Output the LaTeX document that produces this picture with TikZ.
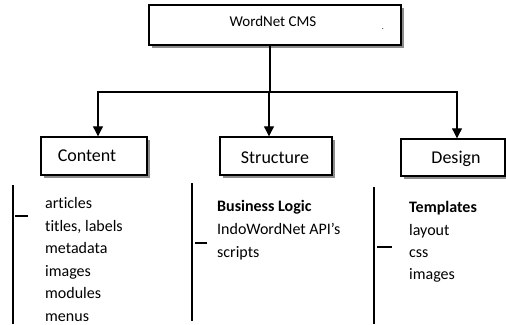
\documentclass[tikz,border=0pt]{standalone}
\usepackage{fontspec}
\setmainfont{Carlito}[Ligatures=NoCommon]
\usetikzlibrary{arrows.meta,shadows}
\begin{document}
\begin{tikzpicture}[x=1pt,y=-1pt,
  box/.style={draw=black, line width=1.4pt, fill=white, inner sep=0pt,
    drop shadow={shadow xshift=3pt, shadow yshift=-3pt, fill=black!45, opacity=1}},
  conn/.style={line width=1.1pt, -{Triangle[width=10pt,length=10pt]}},
  plain/.style={line width=1.1pt},
  brack/.style={line width=1.5pt},
  title/.style={font=\fontsize{18}{20}\selectfont},
  item/.style={anchor=base west, inner sep=0pt, font=\fontsize{16}{20}\selectfont}]
\useasboundingbox (0,0) rectangle (506,324);
% boxes
\node[box, minimum width=252pt, minimum height=40pt] (top) at (275,25) {};
\node[inner sep=0pt, font=\fontsize{15}{18}\selectfont] (toplabel) at (273,21) {WordNet CMS};
\node[inner sep=0pt, font=\fontsize{8}{8}\selectfont] (dot) at (383,29) {.};
\node[box, minimum width=106pt, minimum height=38pt] (c) at (94,156) {};
\node[title, inner sep=0pt] (cl) at (87,156) {Content};
\node[box, minimum width=112pt, minimum height=38pt] (s) at (276,156) {};
\node[title, inner sep=0pt] (sl) at (275,158) {Structure};
\node[box, minimum width=104pt, minimum height=37pt] (d) at (453,157.5) {};
\node[title, inner sep=0pt] (dl) at (456,159) {Design};
% connectors
\coordinate (j) at (270,92);
\draw[plain] (top.south -| j) -- (j);
\draw[conn] (j) -| ([xshift=4pt]c.north);
\draw[conn] (j) -| ([xshift=-7pt]s.north);
\draw[conn] (j) -| ([xshift=4pt]d.north);
% brackets
\coordinate (cb1) at (13,185); \coordinate (cb2) at (13,324);
\coordinate (cd1) at (15,216); \coordinate (cd2) at (28,216);
\draw[brack] (cb1) -- (cb2);
\draw[brack] (cd1) -- (cd2);
\coordinate (sb1) at (192,183); \coordinate (sb2) at (192,321);
\coordinate (sd1) at (195,243); \coordinate (sd2) at (207,243);
\draw[brack] (sb1) -- (sb2);
\draw[brack] (sd1) -- (sd2);
\coordinate (db1) at (374,187); \coordinate (db2) at (374,324);
\coordinate (dd1) at (377,247); \coordinate (dd2) at (392,247);
\draw[brack] (db1) -- (db2);
\draw[brack] (dd1) -- (dd2);
% content items
\node[item] (c1) at (45,208.5) {articles};
\node[item] (c2) at (45,231) {titles, labels};
\node[item] (c3) at (45,253.5) {metadata};
\node[item] (c4) at (45,276) {images};
\node[item] (c5) at (45,298.5) {modules};
\node[item] (c6) at (45,321) {menus};
% structure items
\node[item] (s1) at (217,211) {\bfseries Business Logic};
\node[item] (s2) at (217,234) {IndoWordNet API’s};
\node[item] (s3) at (217,257) {scripts};
% design items
\node[item] (d1) at (409,212) {\bfseries Templates};
\node[item] (d2) at (409,235) {layout};
\node[item] (d3) at (409,257) {css};
\node[item] (d4) at (409,279) {images};
\end{tikzpicture}
\end{document}
